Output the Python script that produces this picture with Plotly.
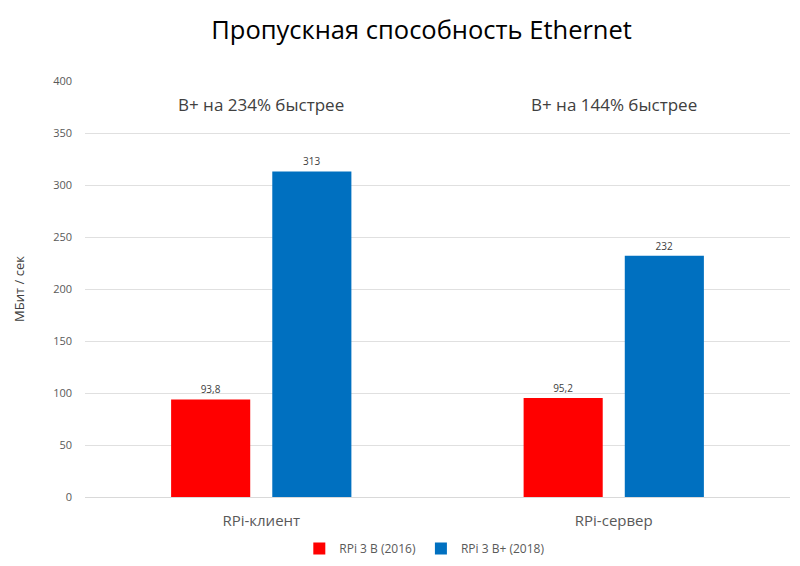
import plotly.graph_objects as go

categories = ["RPi-клиент", "RPi-сервер"]
series_names = ["RPi 3 B (2016)", "RPi 3 B+ (2018)"]
values_b = [93.8, 95.2]
values_bplus = [313, 232]
labels_b = ["93,8", "95,2"]
labels_bplus = ["313", "232"]
notes = ["B+ на 234% быстрее", "B+ на 144% быстрее"]
note_y = 377
colors = ["#FF0000", "#0070C0"]

font = "Open Sans, Noto Sans, sans-serif"

fig = go.Figure()
for name, vals, labs, col in [(series_names[0], values_b, labels_b, colors[0]),
                              (series_names[1], values_bplus, labels_bplus, colors[1])]:
    fig.add_trace(go.Bar(
        x=categories, y=vals, name=name, marker=dict(color=col, line=dict(width=0)),
        text=labs, textposition="outside", cliponaxis=False,
        textfont=dict(size=10, color="#404040", family=font),
    ))

for cat, note in zip(categories, notes):
    fig.add_annotation(x=cat, y=note_y, text=note, showarrow=False,
                       font=dict(size=17, color="#404040", family=font))

fig.update_layout(
    width=800, height=566,
    margin=dict(l=85, r=10, t=81, b=69, autoexpand=False),
    paper_bgcolor="white", plot_bgcolor="white",
    title=dict(text="Пропускная способность Ethernet", x=0.527, xanchor="center",
               y=0.947, yanchor="middle",
               font=dict(size=25.5, color="#000000", family=font)),
    barmode="group", bargap=0.426, bargroupgap=0.218,
    legend=dict(orientation="h", x=0.482, xanchor="center", y=0.031, yanchor="middle",
                yref="container", itemwidth=30,
                font=dict(size=12, color="#595959", family=font)),
    xaxis=dict(tickfont=dict(size=15, color="#595959", family=font),
               showline=True, linecolor="#d9d9d9", ticks="", automargin=False,
               ticklabelstandoff=10),
    yaxis=dict(range=[0, 400], dtick=50, gridcolor="#e0e0e0", zeroline=False,
               automargin=False,
               tickfont=dict(size=11, color="#595959", family=font),
               ticklabelstandoff=12,
               title=dict(text="МБит / сек", font=dict(size=13, color="#404040", family=font),
                          standoff=25)),
)

fig.write_html("out.html", config={"displayModeBar": False},
               post_script="document.body.style.margin='0';")
